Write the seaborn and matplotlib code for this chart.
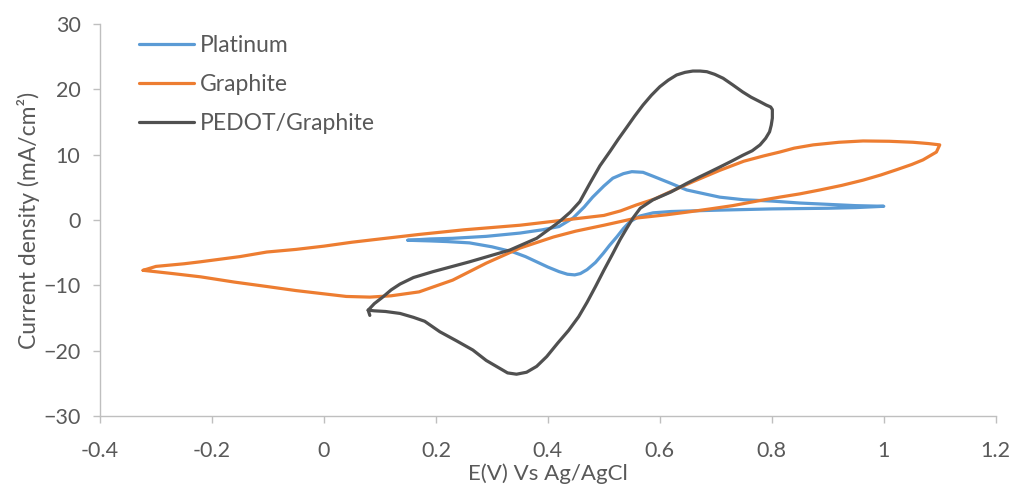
import matplotlib
matplotlib.use("Agg")
import matplotlib.pyplot as plt
import seaborn as sns
import pandas as pd

# ---- data ----
pt_x = [0.15, 0.19, 0.23, 0.29, 0.35, 0.39, 0.42, 0.445, 0.465, 0.48, 0.50, 0.516, 0.535, 0.55, 0.57,
        0.588, 0.62, 0.648, 0.68, 0.707, 0.75, 0.8, 0.85, 0.9, 0.95, 1.0,
        0.95, 0.9, 0.8, 0.7, 0.62, 0.588, 0.564, 0.546, 0.535, 0.523, 0.51, 0.499, 0.485, 0.47, 0.458,
        0.448, 0.435, 0.42, 0.40, 0.38, 0.36, 0.338, 0.30, 0.26, 0.22, 0.19, 0.15]
pt_y = [-3.1, -2.9, -2.8, -2.5, -2.0, -1.5, -1.0, 0.3, 2.0, 3.5, 5.2, 6.4, 7.1, 7.4, 7.3,
        6.7, 5.6, 4.6, 4.0, 3.5, 3.1, 2.9, 2.6, 2.4, 2.2, 2.1,
        1.9, 1.8, 1.7, 1.5, 1.3, 1.1, 0.6, -0.3, -1.3, -2.6, -3.9, -5.1, -6.5, -7.6, -8.2,
        -8.4, -8.3, -7.9, -7.2, -6.4, -5.6, -4.9, -4.1, -3.5, -3.3, -3.2, -3.1]

gr_x = [-0.323, -0.3, -0.25, -0.221, -0.15, -0.102, -0.05, 0.0, 0.05, 0.1, 0.171, 0.25, 0.35, 0.42,
        0.46, 0.5, 0.53, 0.558, 0.59, 0.618, 0.66, 0.707, 0.75, 0.785, 0.814, 0.84, 0.874, 0.92,
        0.963, 1.01, 1.052, 1.08, 1.1,
        1.094, 1.07, 1.05, 1.023, 0.995, 0.963, 0.925, 0.886, 0.85, 0.814, 0.78, 0.73, 0.69, 0.648,
        0.612, 0.558, 0.5, 0.45, 0.41, 0.35, 0.29, 0.23, 0.17, 0.12, 0.082, 0.04, 0.0, -0.05,
        -0.1, -0.16, -0.22, -0.27, -0.323]
gr_y = [-7.7, -7.1, -6.7, -6.4, -5.6, -4.9, -4.5, -4.0, -3.4, -2.9, -2.2, -1.5, -0.8, -0.1,
        0.3, 0.7, 1.4, 2.3, 3.2, 4.3, 5.9, 7.6, 9.0, 9.8, 10.4, 11.0, 11.5, 11.9,
        12.1, 12.05, 11.9, 11.7, 11.5,
        10.4, 9.2, 8.5, 7.7, 6.9, 6.1, 5.3, 4.6, 4.0, 3.5, 3.0, 2.2, 1.7, 1.2,
        0.8, 0.3, -0.8, -1.7, -2.6, -4.3, -6.6, -9.2, -11.0, -11.6, -11.8, -11.7, -11.3, -10.8,
        -10.2, -9.5, -8.7, -8.2, -7.7]

pd_x = [0.079, 0.09, 0.105, 0.12, 0.136, 0.16, 0.195, 0.26, 0.332, 0.38, 0.42, 0.44, 0.457, 0.475,
        0.493, 0.511, 0.526, 0.541, 0.555, 0.57, 0.585, 0.6, 0.615, 0.63, 0.645, 0.659, 0.672,
        0.684, 0.698, 0.713, 0.73, 0.748, 0.763, 0.779, 0.79, 0.798,
        0.801, 0.801, 0.799, 0.796, 0.789, 0.779, 0.765, 0.748, 0.728, 0.707, 0.688, 0.671, 0.648,
        0.62, 0.588, 0.565, 0.552, 0.54, 0.529, 0.515, 0.5, 0.485, 0.47, 0.455, 0.437, 0.418,
        0.398, 0.38, 0.362, 0.344, 0.328, 0.314, 0.29, 0.266, 0.237, 0.207, 0.18, 0.16, 0.136,
        0.11, 0.09, 0.079, 0.082]
pd_y = [-13.8, -12.8, -11.8, -10.7, -9.8, -8.8, -7.9, -6.4, -4.6, -2.8, -0.3, 1.2, 2.8, 5.6,
        8.3, 10.5, 12.4, 14.2, 15.9, 17.6, 19.1, 20.4, 21.4, 22.2, 22.6, 22.8, 22.8,
        22.7, 22.3, 21.7, 20.7, 19.6, 18.8, 18.1, 17.6, 17.3,
        16.9, 15.6, 14.5, 13.5, 12.5, 11.5, 10.6, 9.9, 9.0, 8.1, 7.3, 6.6, 5.6,
        4.3, 3.1, 1.8, 0.3, -1.4, -3.0, -5.3, -7.7, -10.2, -12.6, -14.8, -16.9, -18.8,
        -20.9, -22.4, -23.3, -23.6, -23.4, -22.7, -21.5, -19.9, -18.5, -17.1, -15.5, -14.9, -14.3,
        -14.0, -13.9, -13.8, -14.6]

series_names = ["Platinum", "Graphite", "PEDOT/Graphite"]
series_colors = ["#5B9BD5", "#ED7D31", "#505050"]
x_ticks = [-0.4, -0.2, 0, 0.2, 0.4, 0.6, 0.8, 1, 1.2]
x_tick_labels = ["-0.4", "-0.2", "0", "0.2", "0.4", "0.6", "0.8", "1", "1.2"]
y_ticks = [-30, -20, -10, 0, 10, 20, 30]

# ---- plot ----
sns.set_style("white")
plt.rcParams["font.family"] = ["Lato", "DejaVu Sans"]

fig = plt.figure(figsize=(10.11, 4.86), dpi=100)
ax = fig.add_axes([0.0989, 0.144, 0.886, 0.8066])

for name, xs, ys, c in zip(series_names, [pt_x, gr_x, pd_x], [pt_y, gr_y, pd_y], series_colors):
    df = pd.DataFrame({"x": xs, "y": ys})
    sns.lineplot(data=df, x="x", y="y", sort=False, estimator=None, ax=ax,
                 color=c, linewidth=2.3, label=name)

ax.set_xlim(-0.4, 1.2)
ax.set_ylim(-30, 30)
ax.set_xticks(x_ticks)
ax.set_xticklabels(x_tick_labels)
ax.set_yticks(y_ticks)

grey = "#BFBFBF"
txt = "#595959"
for s in ["top", "right"]:
    ax.spines[s].set_visible(False)
for s in ["left", "bottom"]:
    ax.spines[s].set_color(grey)
    ax.spines[s].set_linewidth(1.0)
ax.tick_params(axis="both", which="major", direction="out", length=5, width=1,
               color=grey, labelcolor=txt, labelsize=15.5, bottom=True, left=True)
ax.tick_params(axis="x", pad=13)
ax.tick_params(axis="y", pad=9)

ax.set_xlabel("E(V) Vs Ag/AgCl", fontsize=16, color=txt, labelpad=2)
ax.set_ylabel("Current density (mA/cm²)", fontsize=16.5, color=txt, labelpad=2)

leg = ax.legend(loc="upper left", bbox_to_anchor=(39 / 896, 1 - 11 / 392), frameon=False,
                fontsize=16.5, handlelength=2.4, handletextpad=0.25, labelspacing=0.78,
                borderaxespad=0, borderpad=0)
for t in leg.get_texts():
    t.set_color(txt)

fig.savefig("out.png", dpi=100)
